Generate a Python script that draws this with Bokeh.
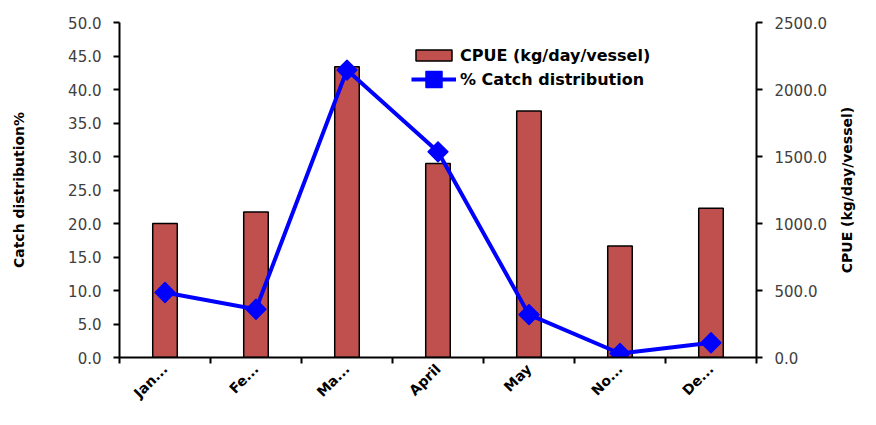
import numpy as np
from math import pi
from bokeh.plotting import figure
from bokeh.layouts import row
from bokeh.models import (Range1d, LinearAxis, FixedTicker, NumeralTickFormatter,
                          Legend, LegendItem, Title)
from bokeh.embed import file_html
from bokeh.resources import INLINE

months = ["Jan...", "Fe...", "Ma...", "April", "May", "No...", "De..."]
cpue = [1000, 1085, 2170, 1448, 1840, 833, 1113]          # kg/day/vessel (right axis)
catch_pct = [9.7, 7.2, 42.9, 30.7, 6.4, 0.6, 2.2]        # % catch distribution (left axis)
left_ticks = [0, 5, 10, 15, 20, 25, 30, 35, 40, 45, 50]
right_ticks = [0, 500, 1000, 1500, 2000, 2500]
left_title = "Catch distribution%"
right_title = "CPUE (kg/day/vessel)"

FONT = "DejaVu Sans"

n = len(months)
xc = list(np.arange(n) + 0.5)

p = figure(width=836, height=409, x_range=Range1d(0, n), y_range=Range1d(0, 50),
           output_backend="svg", toolbar_location=None,
           min_border_left=119, min_border_right=80, min_border_top=22, min_border_bottom=0)
p.extra_y_ranges = {"cpue": Range1d(0, 2500)}
p.grid.visible = False
p.outline_line_color = None
p.background_fill_color = "white"
p.border_fill_color = "white"

bars = p.vbar(x=xc, top=cpue, width=0.27, bottom=0, y_range_name="cpue",
              fill_color="#C0504D", line_color="black", line_width=1.5)
line = p.line(xc, catch_pct, line_color="#0000FF", line_width=4)
marks = p.scatter(xc, catch_pct, marker="square", angle=pi / 4, size=14,
                  fill_color="#0000FF", line_color="#0000FF", line_width=1.5,
                  line_join="round")

# x axis
xa = p.xaxis[0]
xa.ticker = FixedTicker(ticks=xc, minor_ticks=list(range(n + 1)))
xa.major_label_overrides = {float(v): m for v, m in zip(xc, months)}
xa.major_tick_line_color = None
xa.major_tick_in = 0
xa.major_tick_out = 6
xa.minor_tick_in = 0
xa.minor_tick_out = 6
xa.minor_tick_line_color = "black"
xa.minor_tick_line_width = 2
xa.axis_line_color = "black"
xa.axis_line_width = 2
xa.major_label_orientation = pi / 4
xa.major_label_standoff = 3
xa.major_label_text_font = FONT
xa.major_label_text_font_style = "bold"
xa.major_label_text_font_size = "14px"
xa.major_label_text_color = "black"

# left axis
ya = p.yaxis[0]
ya.ticker = FixedTicker(ticks=left_ticks, minor_ticks=[])
ya.formatter = NumeralTickFormatter(format="0.0")
ya.axis_label = left_title

ra = LinearAxis(y_range_name="cpue")
ra.ticker = FixedTicker(ticks=right_ticks, minor_ticks=[])
ra.formatter = NumeralTickFormatter(format="0.0")
p.add_layout(ra, "right")

for ax in (ya, ra):
    ax.axis_line_color = "black"
    ax.axis_line_width = 2
    ax.major_tick_in = 0
    ax.major_tick_out = 6
    ax.major_tick_line_width = 2
    ax.major_tick_line_color = "black"
    ax.minor_tick_line_color = None
    ax.major_label_standoff = 12
    ax.major_label_text_font = FONT
    ax.major_label_text_font_size = "15px"
    ax.major_label_text_color = "#404040"
    ax.axis_label_text_font = FONT
    ax.axis_label_text_font_style = "bold"
    ax.axis_label_text_font_size = "14px"
    ax.axis_label_text_color = "black"
ya.axis_label_standoff = 38

common = dict(padding=0, margin=0, spacing=0, glyph_width=45, label_standoff=4,
              label_text_font=FONT, label_text_font_style="bold",
              label_text_font_size="16px", label_text_color="black",
              border_line_color=None, background_fill_alpha=0)
legend_bar = Legend(items=[LegendItem(label="CPUE (kg/day/vessel)", renderers=[bars])],
                    location=(292, 292), glyph_height=14, label_height=20, **common)
legend_line = Legend(items=[LegendItem(label="% Catch distribution", renderers=[line, marks])],
                     location=(292, 258), glyph_height=40, label_height=20, **common)
p.add_layout(legend_bar)
p.add_layout(legend_line)

# right-hand axis title, reading bottom-to-top as in the reference
p2 = figure(width=24, height=409, output_backend="svg", toolbar_location=None,
            min_border_left=0, min_border_right=0, min_border_top=22, min_border_bottom=52)
p2.axis.visible = False
p2.grid.visible = False
p2.outline_line_color = None
p2.title.visible = False
p2.add_layout(Title(text=right_title, align="center", text_font=FONT,
                    text_font_style="bold", text_font_size="14px",
                    text_color="black", standoff=0, offset=0), "left")

layout = row(p, p2, spacing=0)
open("out.html", "w").write(file_html(layout, INLINE))
